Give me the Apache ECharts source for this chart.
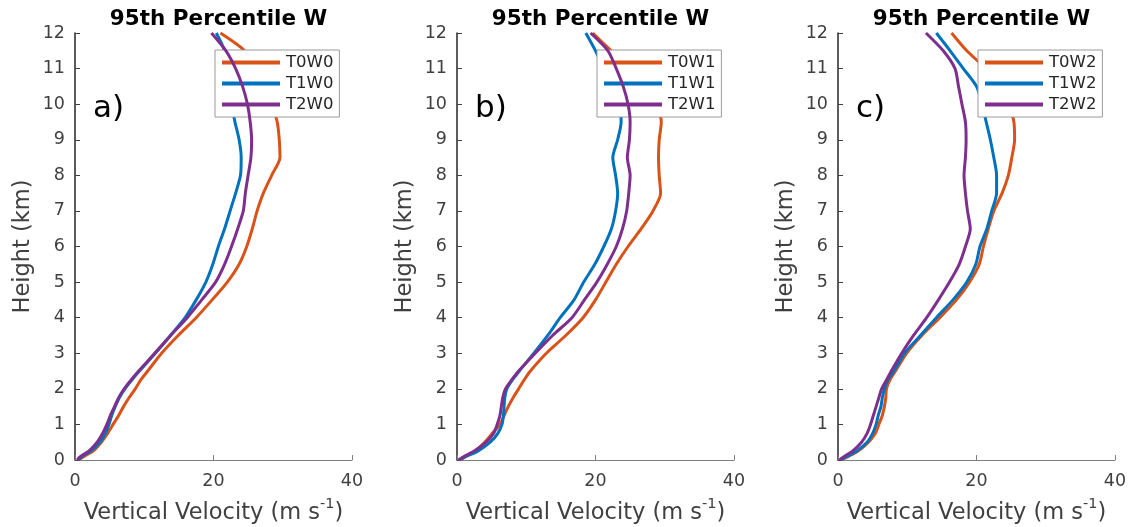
<!DOCTYPE html>
<html>
<head>
<meta charset="utf-8">
<script src="https://cdn.jsdelivr.net/npm/echarts@6/dist/echarts.min.js"></script>
<style>
  html, body { margin: 0; padding: 0; background: #fff; }
  #chart { width: 1132px; height: 527px; }
</style>
</head>
<body>
<div id="chart"></div>
<script>
  // heights (km), shared by every profile
  const heights = [0, 0.1, 0.25, 0.5, 0.75, 1, 1.25, 1.5, 1.75, 2, 2.25, 2.5, 3, 3.5, 4, 4.5,
    5, 5.5, 6, 6.5, 7, 7.5, 8, 8.5, 9, 9.5, 10, 10.5, 11, 11.5, 12]

  // 95th percentile vertical velocity (m/s)
  const t0w0 = [0.5, 1.3, 2.6, 3.8, 4.7, 5.5, 6.3, 7.0, 7.8, 8.7, 9.5, 10.5, 12.5, 14.9, 17.5, 19.8,
    22.0, 23.7, 24.8, 25.6, 26.3, 27.2, 28.4, 29.6, 29.5, 29.2, 28.4, 27.3, 26.0, 24.5, 21.0]
  const t1w0 = [0.5, 1.0, 2.3, 3.6, 4.4, 4.9, 5.3, 5.8, 6.4, 7.2, 8.2, 9.3, 11.6, 13.8, 15.9, 17.5,
    18.9, 19.9, 20.7, 21.6, 22.4, 23.2, 23.9, 24.0, 23.7, 23.1, 22.6, 22.2, 21.9, 21.6, 20.4]
  const t2w0 = [0.3, 0.8, 2.0, 3.2, 4.0, 4.6, 5.1, 5.7, 6.3, 7.1, 8.1, 9.2, 11.5, 13.8, 16.2, 18.3,
    20.3, 21.6, 22.6, 23.5, 24.3, 24.6, 25.0, 25.4, 25.5, 25.3, 24.9, 24.2, 23.2, 21.8, 19.7]

  const t0w1 = [0.5, 1.3, 2.6, 4.0, 5.1, 6.2, 6.8, 7.4, 8.1, 8.9, 9.7, 10.6, 12.9, 15.7, 18.2, 20.0,
    21.5, 23.0, 24.7, 26.6, 28.3, 29.4, 29.2, 29.1, 29.2, 29.5, 28.8, 27.5, 25.5, 22.3, 19.6]
  const t1w1 = [0.3, 1.3, 3.0, 4.8, 5.9, 6.5, 6.7, 6.8, 6.9, 7.2, 8.0, 9.0, 11.1, 13.1, 14.9, 16.9,
    18.3, 19.9, 21.2, 22.3, 22.9, 23.2, 22.9, 22.5, 23.2, 23.7, 23.5, 22.5, 21.2, 20.0, 18.6]
  const t2w1 = [0.2, 1.0, 2.5, 4.2, 5.3, 5.8, 6.2, 6.4, 6.6, 7.0, 7.9, 8.9, 11.3, 13.8, 16.6, 18.4,
    20.2, 21.7, 23.0, 23.9, 24.5, 24.8, 25.0, 24.6, 24.9, 25.0, 24.7, 24.0, 23.0, 21.8, 19.3]

  const t0w2 = [0.5, 1.5, 2.9, 4.4, 5.4, 5.9, 6.4, 6.7, 6.9, 7.0, 7.5, 8.3, 9.9, 12.1, 14.7, 17.1,
    19.0, 20.4, 21.0, 21.7, 22.5, 23.7, 24.6, 25.1, 25.5, 25.4, 24.6, 23.2, 21.3, 18.6, 16.4]
  const t1w2 = [0.4, 1.3, 2.7, 4.2, 5.0, 5.5, 5.8, 6.2, 6.4, 6.7, 7.2, 8.1, 9.6, 11.9, 14.2, 16.6,
    18.6, 19.9, 20.5, 21.5, 22.2, 22.9, 22.9, 22.5, 22.0, 21.4, 20.8, 20.0, 18.1, 16.2, 14.2]
  const t2w2 = [0.2, 0.9, 2.1, 3.4, 4.2, 4.7, 5.1, 5.5, 5.9, 6.3, 7.0, 7.7, 9.2, 10.9, 12.8, 14.5,
    16.1, 17.5, 18.4, 19.1, 18.7, 18.4, 18.2, 18.4, 18.5, 18.4, 17.9, 17.4, 16.9, 15.2, 12.7]

  const panelLabels = ['a)', 'b)', 'c)']
  const seriesNames = [['T0W0', 'T1W0', 'T2W0'], ['T0W1', 'T1W1', 'T2W1'], ['T0W2', 'T1W2', 'T2W2']]
  const seriesValues = [[t0w0, t1w0, t2w0], [t0w1, t1w1, t2w1], [t0w2, t1w2, t2w2]]
  const xTicks = [0, 20, 40]
  const yTicks = [0, 12]

  // MATLAB default colours
  const colors = ['#D95319', '#0072BD', '#7E2F8E']
  const font = 'DejaVu Sans'

  // pixel layout of the three axes
  const panelLeft = [75, 457, 838]
  const panelWidth = 277
  const panelTop = 33
  const panelHeight = 427

  const chart = echarts.init(document.getElementById('chart'))

  const grid = [], xAxis = [], yAxis = [], series = [], legend = [], title = [], graphic = []

  panelLeft.forEach((left, p) => {
    // outerBoundsMode none: keep the grid where it is even if the axis name runs to the edge
    grid.push({ left: left, top: panelTop, width: panelWidth, height: panelHeight, outerBoundsMode: 'none' })
    title.push({
      text: '95th Percentile W',
      left: left + panelWidth / 2,
      textAlign: 'center',
      top: 3,
      textStyle: { fontFamily: font, fontSize: 21.5, fontWeight: 'bold', color: '#000' }
    })
    xAxis.push({
      type: 'value', gridIndex: p, min: xTicks[0], max: xTicks[2], interval: 20,
      name: '{n|Vertical Velocity (m s}{s|-1}{n|)}',
      nameLocation: 'middle', nameGap: 37,
      nameTextStyle: {
        fontFamily: font, color: '#404040',
        rich: {
          n: { fontFamily: font, fontSize: 22.5, color: '#404040', lineHeight: 28, verticalAlign: 'bottom' },
          s: { fontFamily: font, fontSize: 14.5, color: '#404040', lineHeight: 28, verticalAlign: 'top' }
        }
      },
      axisLine: { show: true, lineStyle: { color: '#808080', width: 1 } },
      axisTick: { show: true, inside: true, length: 5, lineStyle: { color: '#808080' } },
      axisLabel: { fontFamily: font, fontSize: 17.5, color: '#404040', margin: 12 },
      splitLine: { show: false }
    })
    yAxis.push({
      type: 'value', gridIndex: p, min: yTicks[0], max: yTicks[1], interval: 1,
      name: 'Height (km)', nameLocation: 'middle', nameGap: 40,
      nameTextStyle: { fontFamily: font, fontSize: 22.5, color: '#404040' },
      axisLine: { show: true, lineStyle: { color: '#262626', width: 1.5 } },
      axisTick: { show: true, inside: true, length: 5, lineStyle: { color: '#404040' } },
      axisLabel: { fontFamily: font, fontSize: 17.5, color: '#404040', margin: 10 },
      splitLine: { show: false }
    })
    seriesNames[p].forEach((name, k) => {
      series.push({
        name: name, type: 'line', xAxisIndex: p, yAxisIndex: p,
        data: heights.map((h, i) => [seriesValues[p][k][i], h]),
        showSymbol: false, smooth: 0.25,
        lineStyle: { color: colors[k], width: 3 },
        itemStyle: { color: colors[k] },
        z: 2 + k
      })
    })
    legend.push({
      data: seriesNames[p], orient: 'vertical',
      left: left + 140, top: 50,
      icon: 'rect', itemWidth: 58, itemHeight: 4, itemGap: 4,
      padding: [4, 6, 4, 7],
      backgroundColor: '#fff', borderColor: '#9a9a9a', borderWidth: 1,
      selectedMode: false,
      textStyle: { fontFamily: font, fontSize: 16.5, color: '#262626', padding: [0, 0, 0, 1] }
    })
    graphic.push({
      type: 'text', left: left + 18, top: 93,
      style: { text: panelLabels[p], font: '31px "DejaVu Sans"', fill: '#000' }
    })
  })

  chart.setOption({
    animation: false,
    title: title,
    grid: grid,
    xAxis: xAxis,
    yAxis: yAxis,
    legend: legend,
    graphic: graphic,
    series: series
  })
</script>
</body>
</html>
